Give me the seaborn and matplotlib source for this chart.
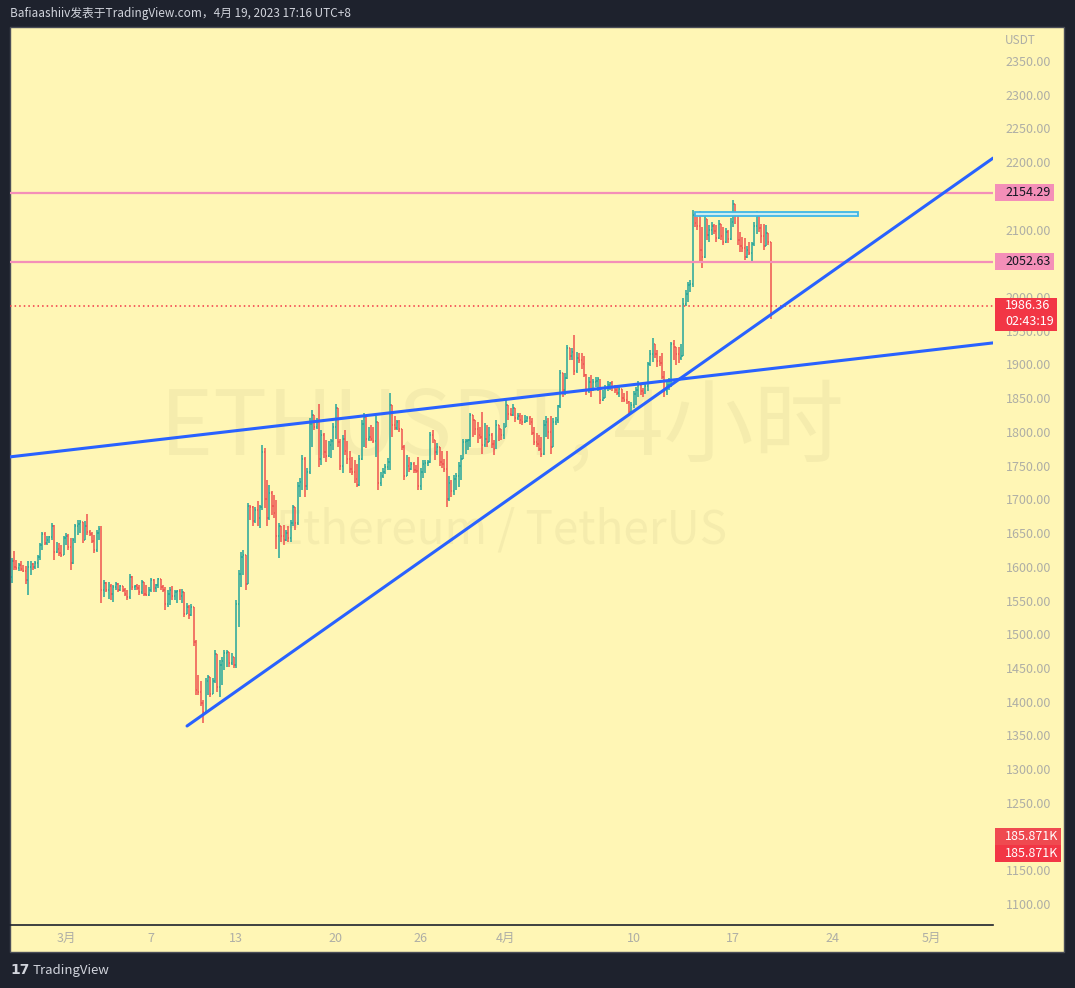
import seaborn as sns
import matplotlib.pyplot as plt
import matplotlib.transforms as mtransforms
from matplotlib.patches import Rectangle
import numpy as np

## 4h ETHUSDT bars, Feb 25 04:00 -> Apr 19 16:00 (UTC+8), one row per day
first_open = 1585
close = [
    1608, 1600, 1598, 1602, 1597,
    1594, 1580, 1600, 1604, 1599, 1606,
    1614, 1632, 1648, 1636, 1640, 1644,
    1660, 1622, 1626, 1620, 1618, 1642,
    1646, 1630, 1606, 1640, 1660, 1664,   # Mar 1
    1666, 1640, 1660, 1652, 1648, 1638,
    1625, 1650, 1656, 1565, 1576, 1566,
    1572, 1560, 1570, 1575, 1566, 1571,
    1565, 1560, 1555, 1585, 1570, 1572,
    1568, 1562, 1577, 1560, 1558, 1566,
    1580, 1568, 1573, 1582, 1570, 1566,   # Mar 7
    1545, 1560, 1565, 1556, 1562, 1564,
    1556, 1562, 1530, 1540, 1528, 1540,
    1488, 1418, 1414, 1398, 1385, 1430,
    1436, 1412, 1430, 1470, 1422, 1455,
    1460, 1472, 1474, 1458, 1466, 1455,
    1545, 1590, 1615, 1618, 1575, 1690,   # Mar 13
    1688, 1668, 1684, 1672, 1688, 1770,
    1700, 1672, 1710, 1690, 1680, 1645,
    1660, 1645, 1640, 1650, 1642, 1665,
    1688, 1665, 1720, 1726, 1760, 1720,
    1740, 1812, 1825, 1808, 1815, 1760,
    1795, 1770, 1765, 1780, 1786, 1808,
    1835, 1785, 1750, 1790, 1772, 1760,   # Mar 20
    1745, 1740, 1730, 1722, 1760, 1812,
    1822, 1790, 1792, 1790, 1786, 1815,
    1725, 1735, 1740, 1748, 1755, 1840,
    1810, 1806, 1814, 1804, 1778, 1735,
    1750, 1745, 1752, 1744, 1742, 1720,
    1740, 1752, 1754, 1756, 1795, 1788,   # Mar 26
    1770, 1778, 1756, 1752, 1745, 1700,
    1725, 1712, 1730, 1735, 1750, 1760,
    1785, 1787, 1788, 1825, 1818, 1805,
    1795, 1792, 1780, 1790, 1785, 1796,
    1782, 1775, 1810, 1804, 1795, 1808,
    1840, 1826, 1825, 1835, 1820, 1824,   # Apr 1
    1818, 1815, 1816, 1820, 1814, 1798,
    1785, 1782, 1775, 1768, 1810, 1815,
    1800, 1778, 1815, 1818, 1838, 1888,
    1862, 1880, 1925, 1912, 1918, 1890,
    1910, 1906, 1900, 1885, 1860, 1874,
    1862, 1874, 1876, 1878, 1848, 1850,
    1865, 1870, 1872, 1866, 1862, 1858,
    1864, 1850, 1848, 1845, 1830, 1840,
    1856, 1862, 1870, 1860, 1858, 1868,   # Apr 10
    1900, 1915, 1930, 1915, 1905, 1902,
    1882, 1860, 1870, 1876, 1930, 1926,
    1916, 1910, 1912, 1990, 2004, 2018,
    2020, 2122, 2110, 2106, 2070, 2060,
    2115, 2092, 2100, 2106, 2098, 2088,
    2108, 2090, 2082, 2096, 2086, 2112,
    2138, 2125, 2085, 2075, 2072, 2060,   # Apr 17
    2070, 2066, 2078, 2105, 2120, 2102,
    2090, 2075, 2095, 2082, 1986.36,
]
high = [
    1613, 1623, 1610, 1605, 1609,
    1603, 1601, 1608, 1608, 1606, 1609,
    1617, 1635, 1652, 1652, 1645, 1646,
    1665, 1662, 1637, 1635, 1632, 1646,
    1650, 1649, 1642, 1642, 1664, 1669,
    1669, 1667, 1668, 1678, 1655, 1651,
    1647, 1655, 1660, 1660, 1580, 1578,
    1578, 1575, 1573, 1578, 1576, 1573,
    1572, 1568, 1566, 1589, 1586, 1573,
    1575, 1573, 1580, 1578, 1573, 1570,
    1583, 1582, 1575, 1584, 1582, 1573,
    1570, 1566, 1570, 1572, 1566, 1566,
    1567, 1567, 1562, 1546, 1543, 1545,
    1540, 1491, 1440, 1430, 1403, 1435,
    1440, 1437, 1435, 1477, 1469, 1462,
    1467, 1477, 1477, 1474, 1472, 1467,
    1551, 1595, 1622, 1625, 1612, 1694,
    1692, 1690, 1689, 1697, 1692, 1781,
    1776, 1729, 1721, 1712, 1707, 1699,
    1665, 1660, 1662, 1655, 1660, 1670,
    1692, 1688, 1726, 1731, 1766, 1763,
    1746, 1820, 1832, 1825, 1820, 1842,
    1803, 1798, 1788, 1786, 1790, 1813,
    1842, 1835, 1790, 1795, 1803, 1786,
    1771, 1763, 1758, 1753, 1766, 1818,
    1828, 1822, 1808, 1810, 1808, 1823,
    1815, 1741, 1746, 1753, 1761, 1857,
    1840, 1823, 1818, 1818, 1804, 1780,
    1766, 1763, 1756, 1756, 1751, 1763,
    1746, 1758, 1758, 1758, 1800, 1803,
    1788, 1783, 1778, 1771, 1760, 1771,
    1734, 1729, 1736, 1739, 1756, 1766,
    1790, 1790, 1790, 1828, 1823, 1818,
    1815, 1808, 1830, 1813, 1810, 1808,
    1798, 1788, 1818, 1810, 1804, 1813,
    1847, 1840, 1835, 1842, 1835, 1828,
    1828, 1825, 1825, 1823, 1823, 1820,
    1808, 1798, 1795, 1793, 1818, 1823,
    1820, 1823, 1820, 1822, 1840, 1892,
    1888, 1887, 1929, 1925, 1924, 1944,
    1919, 1917, 1917, 1912, 1886, 1882,
    1884, 1879, 1882, 1882, 1878, 1862,
    1870, 1875, 1874, 1875, 1870, 1866,
    1870, 1864, 1858, 1860, 1846, 1845,
    1860, 1867, 1875, 1870, 1865, 1872,
    1904, 1921, 1939, 1930, 1921, 1912,
    1917, 1890, 1877, 1880, 1934, 1936,
    1921, 1926, 1931, 1998, 2010, 2023,
    2025, 2129, 2124, 2118, 2127, 2104,
    2122, 2115, 2107, 2112, 2109, 2107,
    2114, 2108, 2104, 2102, 2099, 2117,
    2144, 2138, 2125, 2097, 2089, 2087,
    2075, 2082, 2082, 2112, 2127, 2120,
    2109, 2109, 2107, 2094, 2082,
]
low = [
    1576, 1595, 1595, 1594, 1594,
    1592, 1575, 1558, 1588, 1596, 1597,
    1598, 1610, 1625, 1632, 1632, 1635,
    1640, 1610, 1620, 1616, 1614, 1617,
    1632, 1625, 1596, 1604, 1635, 1647,
    1650, 1635, 1640, 1647, 1645, 1635,
    1620, 1622, 1640, 1546, 1555, 1563,
    1553, 1551, 1548, 1566, 1563, 1564,
    1563, 1556, 1551, 1553, 1566, 1565,
    1565, 1558, 1560, 1556, 1556, 1557,
    1563, 1563, 1563, 1568, 1566, 1563,
    1536, 1540, 1543, 1551, 1551, 1546,
    1551, 1546, 1525, 1533, 1523, 1527,
    1482, 1410, 1410, 1393, 1368, 1384,
    1410, 1407, 1412, 1427, 1415, 1407,
    1425, 1447, 1452, 1452, 1454, 1450,
    1450, 1511, 1570, 1588, 1566, 1575,
    1670, 1660, 1665, 1660, 1657, 1684,
    1687, 1660, 1670, 1677, 1672, 1627,
    1613, 1637, 1632, 1638, 1637, 1637,
    1660, 1655, 1662, 1704, 1714, 1704,
    1714, 1738, 1778, 1803, 1805, 1748,
    1751, 1761, 1756, 1763, 1761, 1773,
    1790, 1778, 1744, 1739, 1766, 1753,
    1739, 1736, 1724, 1719, 1720, 1758,
    1778, 1776, 1786, 1786, 1783, 1763,
    1714, 1720, 1731, 1738, 1744, 1744,
    1793, 1803, 1803, 1800, 1773, 1729,
    1735, 1741, 1743, 1739, 1739, 1714,
    1714, 1731, 1739, 1749, 1754, 1783,
    1758, 1766, 1749, 1746, 1740, 1689,
    1697, 1704, 1706, 1714, 1719, 1729,
    1760, 1768, 1773, 1778, 1793, 1795,
    1783, 1790, 1768, 1778, 1778, 1790,
    1776, 1766, 1775, 1786, 1788, 1790,
    1808, 1818, 1823, 1823, 1815, 1818,
    1812, 1810, 1813, 1815, 1810, 1795,
    1781, 1778, 1771, 1763, 1766, 1793,
    1790, 1768, 1778, 1810, 1813, 1836,
    1852, 1855, 1878, 1907, 1907, 1884,
    1887, 1902, 1894, 1882, 1855, 1858,
    1852, 1860, 1867, 1860, 1842, 1846,
    1850, 1860, 1862, 1860, 1858, 1855,
    1852, 1845, 1844, 1842, 1825, 1828,
    1835, 1840, 1852, 1855, 1852, 1856,
    1860, 1898, 1904, 1909, 1897, 1898,
    1879, 1852, 1855, 1862, 1867, 1907,
    1899, 1902, 1907, 1921, 1986, 1993,
    2008, 2015, 2104, 2100, 2052, 2043,
    2058, 2085, 2082, 2092, 2094, 2082,
    2086, 2085, 2077, 2080, 2080, 2084,
    2104, 2109, 2077, 2067, 2067, 2055,
    2058, 2062, 2052, 2075, 2094, 2097,
    2080, 2070, 2086, 2077, 1968,
]

## drawings (time in days from Mar 1 00:00)
hlines_price = [2154.29, 2052.63]
trend_a_days, trend_a_price = [-3.95, 65.33], [1763, 1932]
trend_b_days, trend_b_price = [8.53, 65.33], [1364, 2206]
box_days, box_price = [44.33, 55.81], [2120, 2126]
last_price = 1986.36
countdown = "02:43:19"
volume_label = "185.871K"

xtick_days = [0, 6, 12, 19, 25, 31, 40, 47, 54, 61]
xtick_labels = ["3月", "7", "13", "20", "26", "4月", "10", "17", "24", "5月"]
# 2150 / 2050 / 1200 sit under the price and volume tags on the scale
ytick_prices = [p for p in range(1100, 2351, 50) if p not in (1200, 2050, 2150)]

assert len(close) == len(high) == len(low) == 322

#--Style
sns.set_theme(style="white")
plt.rcParams['font.family'] = ['Noto Sans CJK SC', 'DejaVu Sans']

BG_DARK = '#1e222d'
BG_CHART = '#fff6b5'
UP, DOWN = '#26a69a', '#ef5350'
BLUE = '#2962ff'
PINK = '#f48fb8'
AXIS_TXT = '#aeaea6'
WATERMARK = '#f5ecad'

W, H = 1075, 988
fig = plt.figure(figsize=(W / 100, H / 100), dpi=100)
fig.patch.set_facecolor(BG_DARK)

# chart panel (plot + scales)
fig.add_artist(Rectangle((10 / W, 1 - 952 / H), 1054 / W, 925 / H, transform=fig.transFigure,
                         fc=BG_CHART, ec='#4a4d57', lw=1, zorder=0))

ax = fig.add_axes([10 / W, 1 - 925 / H, 983 / W, 898 / H])
ax.set_facecolor(BG_CHART)
ax.patch.set_alpha(0)

#--OHLC bars
close = np.array(close, dtype=float)
opens = np.concatenate([[first_open], close[:-1]])
high = np.maximum.reduce([np.array(high, float), opens, close])
low = np.minimum.reduce([np.array(low, float), opens, close])
t = -3 - 20 / 24 + np.arange(len(close)) / 6
colors = np.where(close >= opens, UP, DOWN)
tick = 0.065
ax.vlines(t, low, high, colors=colors, lw=1.1, zorder=3)
ax.hlines(opens, t - tick, t, colors=colors, lw=1.1, zorder=3)
ax.hlines(close, t, t + tick, colors=colors, lw=1.1, zorder=3)

#--Watermark
ax.text(0.5, 1 - (430 - 27) / 898, "ETHUSDT, 4小时", transform=ax.transAxes, ha='center', va='center',
        fontsize=65, color=WATERMARK, zorder=1)
ax.text(0.5, 1 - (530 - 27) / 898, "Ethereum / TetherUS", transform=ax.transAxes, ha='center',
        va='center', fontsize=33, color=WATERMARK, zorder=1)

#--Drawings
for p in hlines_price:
    ax.axhline(p, color=PINK, lw=1.6, zorder=4)
ax.axhline(last_price, color='#f23645', lw=1.1, ls=(0, (1, 2)), zorder=4)
sns.lineplot(x=trend_a_days, y=trend_a_price, ax=ax, color=BLUE, lw=2.2, zorder=5)
sns.lineplot(x=trend_b_days, y=trend_b_price, ax=ax, color=BLUE, lw=2.2, zorder=5)
ax.add_patch(Rectangle((box_days[0], box_price[0]), box_days[1] - box_days[0],
                       box_price[1] - box_price[0], fc='#cdeef0', ec='#3fb6e6', lw=1.3, zorder=5))

#--Axes
ax.set_xlim((10 - 66) / 14.19, (993 - 66) / 14.19)
ax.set_ylim(1068.9, 2400.4)
ax.yaxis.tick_right()
ax.set_yticks(ytick_prices)
ax.set_yticklabels([f"{p:.2f}" for p in ytick_prices])
ax.set_xticks(xtick_days)
ax.set_xticklabels(xtick_labels)
ax.tick_params(axis='y', length=0, pad=9, labelsize=9, labelcolor=AXIS_TXT)
ax.tick_params(axis='x', length=0, pad=5, labelsize=9, labelcolor=AXIS_TXT)
for s in ['top', 'right', 'left']:
    ax.spines[s].set_visible(False)
ax.spines['bottom'].set_color('#1e222d')
ax.spines['bottom'].set_linewidth(1.2)
ax.set_xlabel('')
ax.set_ylabel('')
ax.grid(False)

fig.text(1005 / W, 1 - 40 / H, "USDT", ha='left', va='center', fontsize=8.5, color=AXIS_TXT)

#--Price tags on the scale
ppx = (2400.4 - 1068.9) / 898
trans = mtransforms.blended_transform_factory(fig.transFigure, ax.transData)


def price_tag(price, lines, fc, tc, width=59, top_px=8.5):
    h = 16.5 * len(lines) * ppx
    top = price + top_px * ppx
    fig.add_artist(Rectangle((995 / W, top - h), width / W, h, transform=trans, fc=fc, ec='none',
                             zorder=6))
    for k, s in enumerate(lines):
        fig.text(1005 / W, top - (8.25 + 16 * k) * ppx, s, transform=trans, ha='left', va='center',
                 fontsize=9, color=tc, zorder=7)


for p in hlines_price:
    price_tag(p, [f"{p:.2f}"], PINK, '#131722')
price_tag(last_price, [f"{last_price:.2f}", countdown], '#f23645', 'white', width=62)

# volume tags
for k, c in enumerate(['#ef4a50', '#f23645']):
    y0 = 828 + 17 * k
    fig.add_artist(Rectangle((995 / W, 1 - (y0 + 17) / H), 66 / W, 17 / H, transform=fig.transFigure,
                             fc=c, ec='none', zorder=6))
    fig.text(1005 / W, 1 - (y0 + 8.5) / H, volume_label, ha='left', va='center', fontsize=9,
             color='white', zorder=7)

#--Header / footer
fig.text(10 / W, 1 - 14 / H, "Bafiaashiiv发表于TradingView.com，4月 19, 2023 17:16 UTC+8",
         ha='left', va='center', fontsize=8.5, color='#d1d4dc', fontweight='medium')
fig.text(10 / W, 1 - 970 / H, "17", ha='left', va='center', fontsize=10, color='#d1d4dc',
         fontweight='heavy', family='DejaVu Sans')
fig.text(33 / W, 1 - 970 / H, "TradingView", ha='left', va='center', fontsize=9.5, color='#d1d4dc')

fig.savefig("out.png", dpi=100, facecolor=fig.get_facecolor())
plt.close()
